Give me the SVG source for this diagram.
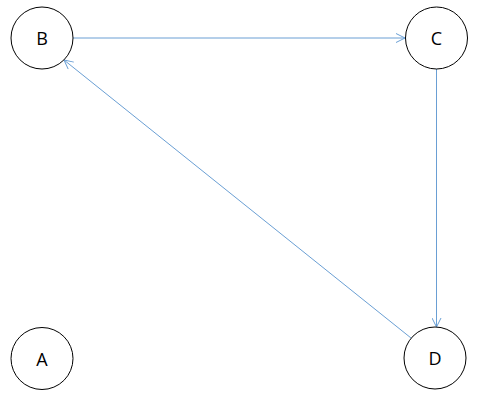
<svg xmlns="http://www.w3.org/2000/svg" width="480" height="401" viewBox="0 0 480 401">
<style>
.node circle{fill:#ffffff;stroke:#000000;stroke-width:1}
.node text{font-family:"Open Sans","Liberation Sans",sans-serif;font-size:18px;fill:#000000;text-anchor:middle;dominant-baseline:central}
.edge{stroke:#6a9fd4;stroke-width:1;fill:none;marker-end:url(#arr)}
</style>
<defs>
<marker id="arr" viewBox="0 0 10 10" refX="10" refY="5" markerWidth="10" markerHeight="10" markerUnits="userSpaceOnUse" orient="auto">
<path d="M1,0.5 L10,5 L1,9.5" fill="none" stroke="#6a9fd4" stroke-width="1"/>
</marker>
</defs>
<rect width="480" height="401" fill="#ffffff"/>
<g id="connectors">
<line class="edge" x1="73" y1="38" x2="405" y2="38"/>
<line class="edge" x1="436.5" y1="69" x2="436.5" y2="327"/>
<line class="edge" x1="411" y1="338" x2="64" y2="60"/>
</g>
<g id="node-B" class="node"><circle cx="42" cy="38" r="31"/><text x="42" y="38">B</text></g>
<g id="node-C" class="node"><circle cx="436.5" cy="38" r="31"/><text x="436.5" y="38">C</text></g>
<g id="node-D" class="node"><circle cx="435" cy="358" r="31"/><text x="435" y="358">D</text></g>
<g id="node-A" class="node"><circle cx="42" cy="358.5" r="31"/><text x="42" y="358.5">A</text></g>
</svg>
